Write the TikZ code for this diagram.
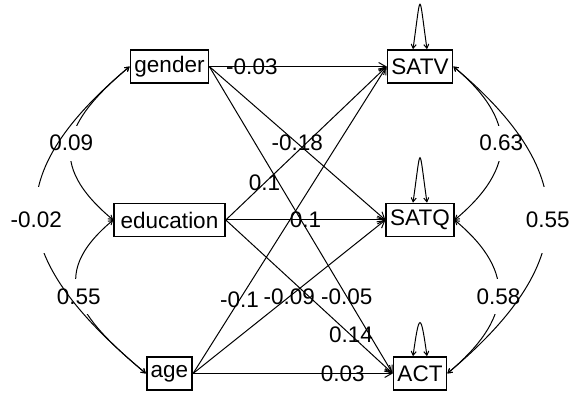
\documentclass[tikz,border=0pt]{standalone}
\usepackage{fontspec}
\setmainfont{Liberation Sans}
\usetikzlibrary{arrows.meta}
\begin{document}
\begin{tikzpicture}[x=0.5pt,y=0.5pt,font=\fontsize{11.25}{13}\selectfont,
 var/.style={draw,line width=0.8pt,minimum height=16.5pt,inner xsep=2pt,inner ysep=0pt},
 reg/.style={line width=0.5pt,-{Straight Barb[length=3.5pt,width=4pt]}},
 cov/.style={line width=0.5pt,{Straight Barb[length=2pt,width=2.5pt]}-{Straight Barb[length=2pt,width=2.5pt]}},
 covlab/.style={fill=white,inner xsep=1pt,inner ysep=#1}]
\useasboundingbox (0,0) rectangle (575,-394);
% predictors
\node[var] (gender) at (169.5,-66.5) {gender};
\node[var,minimum width=55.5pt] (education) at (169.5,-220) {education};
\node[var] (age) at (169.5,-373.5) {age};
% outcomes
\node[var] (SATV) at (420,-66.5) {SATV};
\node[var] (SATQ) at (420,-220) {SATQ};
\node[var] (ACT) at (420,-373.5) {ACT};
% regressions
\foreach \p/\o/\w/\l in {gender/SATV/.24/-0.03,gender/SATQ/.5/-0.18,gender/ACT/.75/-0.05,
  education/SATV/.24/0.1,education/SATQ/.5/0.1,education/ACT/.75/0.14,
  age/SATV/.24/-0.1,age/SATQ/.5/-0.09,age/ACT/.75/0.03}
  \draw[reg](\p.east)--node[pos=\w,inner sep=0pt]{\l}(\o.west);
% variances
\foreach \o/\h in {SATV/11,SATQ/11,ACT/8.2}
  \draw[cov]([xshift=-3.5pt]\o.north)to[out=82,in=98,looseness=\h]([xshift=3.5pt]\o.north);
% covariances
\draw[cov](gender.west)to[out=220,in=140,looseness=1.45]node[covlab=4.75pt]{0.09}(education.west);
\draw[cov](education.west)to[out=220,in=140,looseness=1.44]node[covlab=4.75pt]{0.55}(age.west);
\draw[cov](SATV.east)to[out=-40,in=40,looseness=1.37]node[covlab=4.75pt]{0.63}(SATQ.east);
\draw[cov](SATQ.east)to[out=-40,in=40,looseness=1.38]node[covlab=4.75pt]{0.58}(ACT.east);
\draw[cov](gender.west)to[out=220,in=140,looseness=1.47]node[covlab=12.75pt]{-0.02}(age.west);
\draw[cov](SATV.east)to[out=-40,in=40,looseness=1.41]node[covlab=12.75pt]{0.55}(ACT.east);
\end{tikzpicture}
\end{document}
